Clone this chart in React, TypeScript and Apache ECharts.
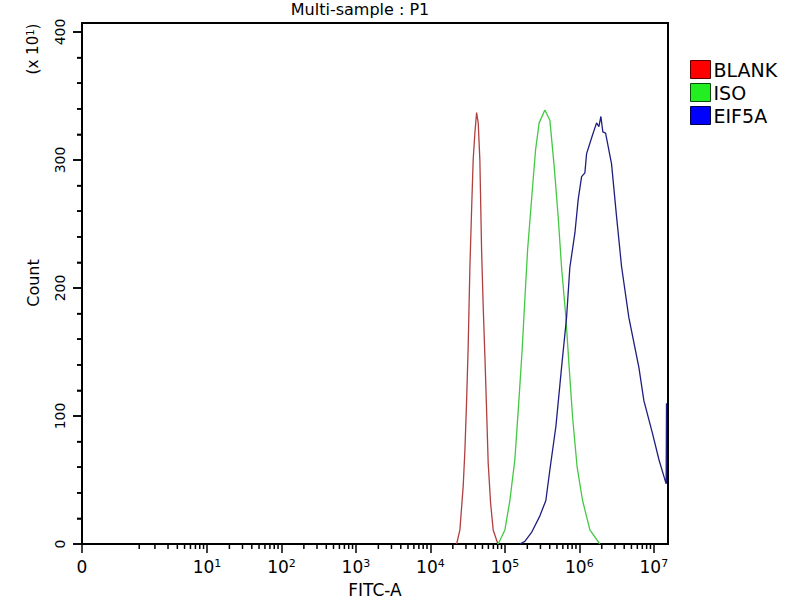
import * as echarts from "echarts";
import { useEffect, useRef } from "react";

// x positions are in decades (log10 of FITC-A); "0" sits left of 10^0 on this display scale
const xMin = -0.678;
const xMax = 7.19;

const majorX = [xMin, 1, 2, 3, 4, 5, 6, 7];
const minorX = [
	0.09, 0.301, 0.477, 0.602, 0.699, 0.778, 0.845, 0.903, 0.954,
	...[1, 2, 3, 4, 5, 6].flatMap((d) => [2, 3, 4, 5, 6, 7, 8, 9].map((k) => d + Math.log10(k)))
];
const majorY = [0, 100, 200, 300, 400];
const minorY = [20, 40, 60, 80, 120, 140, 160, 180, 220, 240, 260, 280, 320, 340, 360, 380];

const blankX = [4.352, 4.396, 4.44, 4.463, 4.486, 4.507, 4.53, 4.553, 4.574, 4.597, 4.62, 4.642, 4.664, 4.687, 4.709, 4.732, 4.754, 4.776, 4.808, 4.843, 4.906];
const blankCount = [0, 11, 45, 73, 112, 154, 216, 261, 300, 321, 337, 329, 300, 230, 185, 146, 105, 63, 32, 11, 0];

const isoX = [4.91, 5.0, 5.067, 5.134, 5.188, 5.232, 5.268, 5.305, 5.358, 5.412, 5.46, 5.537, 5.604, 5.662, 5.715, 5.761, 5.819, 5.863, 5.909, 5.97, 6.043, 6.141, 6.275];
const isoCount = [0, 11, 34, 66, 112, 152, 191, 230, 269, 308, 329, 339, 331, 295, 256, 216, 177, 138, 99, 60, 34, 11, 0];

const eifX = [5.201, 5.268, 5.358, 5.47, 5.55, 5.604, 5.685, 5.761, 5.828, 5.872, 5.94, 5.984, 6.03, 6.074, 6.097, 6.168, 6.231, 6.262, 6.289, 6.315, 6.352, 6.432, 6.499, 6.566, 6.664, 6.799, 6.866, 6.979, 7.068, 7.165, 7.17, 7.17];
const eifCount = [0, 2, 9, 22, 34, 58, 92, 138, 177, 216, 243, 269, 287, 290, 305, 318, 329, 326, 334, 322, 321, 297, 256, 217, 177, 138, 112, 87, 66, 47, 110, 47];

const font = "DejaVu Sans";

const pairs = (xs: number[], ys: number[]) => xs.map((x, i) => [x, ys[i]]);

const xLabel = (v: number) => (Math.abs(v - xMin) < 0.01 ? "0" : `10{s|${Math.round(v)}}`);

// tick lists: [value, tick length in px]
const xMinorTicks = minorX.map((v) => [v, 5]);
const yTicks = [...majorY.map((v) => [v, 9]), ...minorY.map((v) => [v, 5])];

const option: echarts.EChartsOption = {
	animation: false,
	// grid top sits at 400; the plot frame above it is drawn as a graphic rect
	grid: {
		left: 82,
		right: 132,
		top: 32,
		bottom: 56
	},
	legend: {
		orient: "vertical",
		left: 685,
		top: 55,
		icon: "rect",
		itemWidth: 20,
		itemHeight: 18,
		itemGap: 4,
		selectedMode: false,
		textStyle: { fontFamily: font, fontSize: 19, color: "#000", padding: [0, 0, 0, -2] },
		data: [
			{ name: "BLANK", itemStyle: { color: "#ff0000", borderColor: "#5a0000", borderWidth: 1 } },
			{ name: "ISO", itemStyle: { color: "#22ee22", borderColor: "#0a4a0a", borderWidth: 1 } },
			{ name: "EIF5A", itemStyle: { color: "#0000ff", borderColor: "#00004a", borderWidth: 1 } }
		]
	},
	xAxis: {
		type: "value",
		min: xMin,
		max: xMax,
		splitLine: { show: false },
		axisLine: { onZero: false, lineStyle: { color: "#000", width: 2 } },
		axisTick: { customValues: majorX, length: 9, lineStyle: { color: "#000", width: 1.5 } },
		axisLabel: {
			customValues: majorX,
			showMinLabel: true,
			showMaxLabel: true,
			margin: 14,
			color: "#000",
			fontFamily: font,
			fontSize: 17,
			formatter: (v: number) => xLabel(v),
			rich: { s: { fontFamily: font, fontSize: 11, verticalAlign: "top", color: "#000" } }
		}
	},
	yAxis: {
		type: "value",
		min: 0,
		max: 400,
		interval: 100,
		splitLine: { show: false },
		axisLine: { show: true, onZero: false, lineStyle: { color: "#000", width: 2 } },
		axisTick: { show: true, length: 9, lineStyle: { color: "#000", width: 1.5 } },
		minorTick: { show: true, splitNumber: 5, length: 5, lineStyle: { color: "#000", width: 1.5 } },
		axisLabel: {
			rotate: 90,
			margin: 15,
			color: "#000",
			fontFamily: font,
			fontSize: 14
		}
	},
	graphic: [
		{
			type: "rect",
			silent: true,
			shape: { x: 82, y: 23, width: 586, height: 521 },
			style: { fill: "none", stroke: "#000", lineWidth: 2 }
		},
		{
			type: "text",
			x: 360,
			y: 9,
			style: { text: "Multi-sample : P1", fontFamily: font, fontSize: 16, fill: "#000", align: "center", verticalAlign: "middle" }
		},
		{
			type: "text",
			x: 33,
			y: 49,
			rotation: Math.PI / 2,
			style: {
				text: "(x 10{s|1})",
				fontFamily: font,
				fontSize: 15,
				fill: "#000",
				align: "center",
				verticalAlign: "middle",
				rich: { s: { fontFamily: font, fontSize: 10, verticalAlign: "top", fill: "#000" } }
			}
		},
		{
			type: "text",
			x: 33,
			y: 283,
			rotation: Math.PI / 2,
			style: { text: "Count", fontFamily: font, fontSize: 16, fill: "#000", align: "center", verticalAlign: "middle" }
		},
		{
			type: "text",
			x: 375,
			y: 590,
			style: { text: "FITC-A", fontFamily: font, fontSize: 17, fill: "#000", align: "center", verticalAlign: "middle" }
		}
	],
	series: [
		{
			type: "custom",
			clip: false,
			data: xMinorTicks,
			encode: { x: 0, y: 1 },
			renderItem: (_params: any, api: any) => {
				const p = api.coord([api.value(0), 0]);
				const len = api.value(1);
				return {
					type: "line",
					shape: { x1: p[0], y1: p[1], x2: p[0], y2: p[1] + len },
					style: { stroke: "#000", lineWidth: 1.5 }
				};
			}
		},
		{
			type: "custom",
			clip: false,
			data: yTicks,
			encode: { x: 1, y: 0 },
			renderItem: (_params: any, api: any) => {
				const p = api.coord([xMin, api.value(0)]);
				const len = api.value(1);
				return {
					type: "line",
					shape: { x1: p[0] - len, y1: p[1], x2: p[0], y2: p[1] },
					style: { stroke: "#000", lineWidth: 1.5 }
				};
			}
		},
		{
			name: "BLANK",
			type: "line",
			showSymbol: false,
			data: pairs(blankX, blankCount),
			lineStyle: { color: "#b04040", width: 1.3 },
			itemStyle: { color: "#ff0000" }
		},
		{
			name: "ISO",
			type: "line",
			showSymbol: false,
			data: pairs(isoX, isoCount),
			lineStyle: { color: "#44c844", width: 1.3 },
			itemStyle: { color: "#22ee22" }
		},
		{
			name: "EIF5A",
			type: "line",
			showSymbol: false,
			data: pairs(eifX, eifCount),
			lineStyle: { color: "#1e1e80", width: 1.3 },
			itemStyle: { color: "#0000ff" }
		}
	]
};

const App = () => {
	const chartRef = useRef<HTMLDivElement>(null);

	useEffect(() => {
		const chart = echarts.init(chartRef.current!, undefined, { renderer: "svg" });
		chart.setOption(option);

		return () => {
			chart.dispose();
		};
	}, []);

	return <div ref={chartRef} style={{ position: "absolute", left: 0, top: 0, width: "800px", height: "600px" }} />;
};

export default App;
